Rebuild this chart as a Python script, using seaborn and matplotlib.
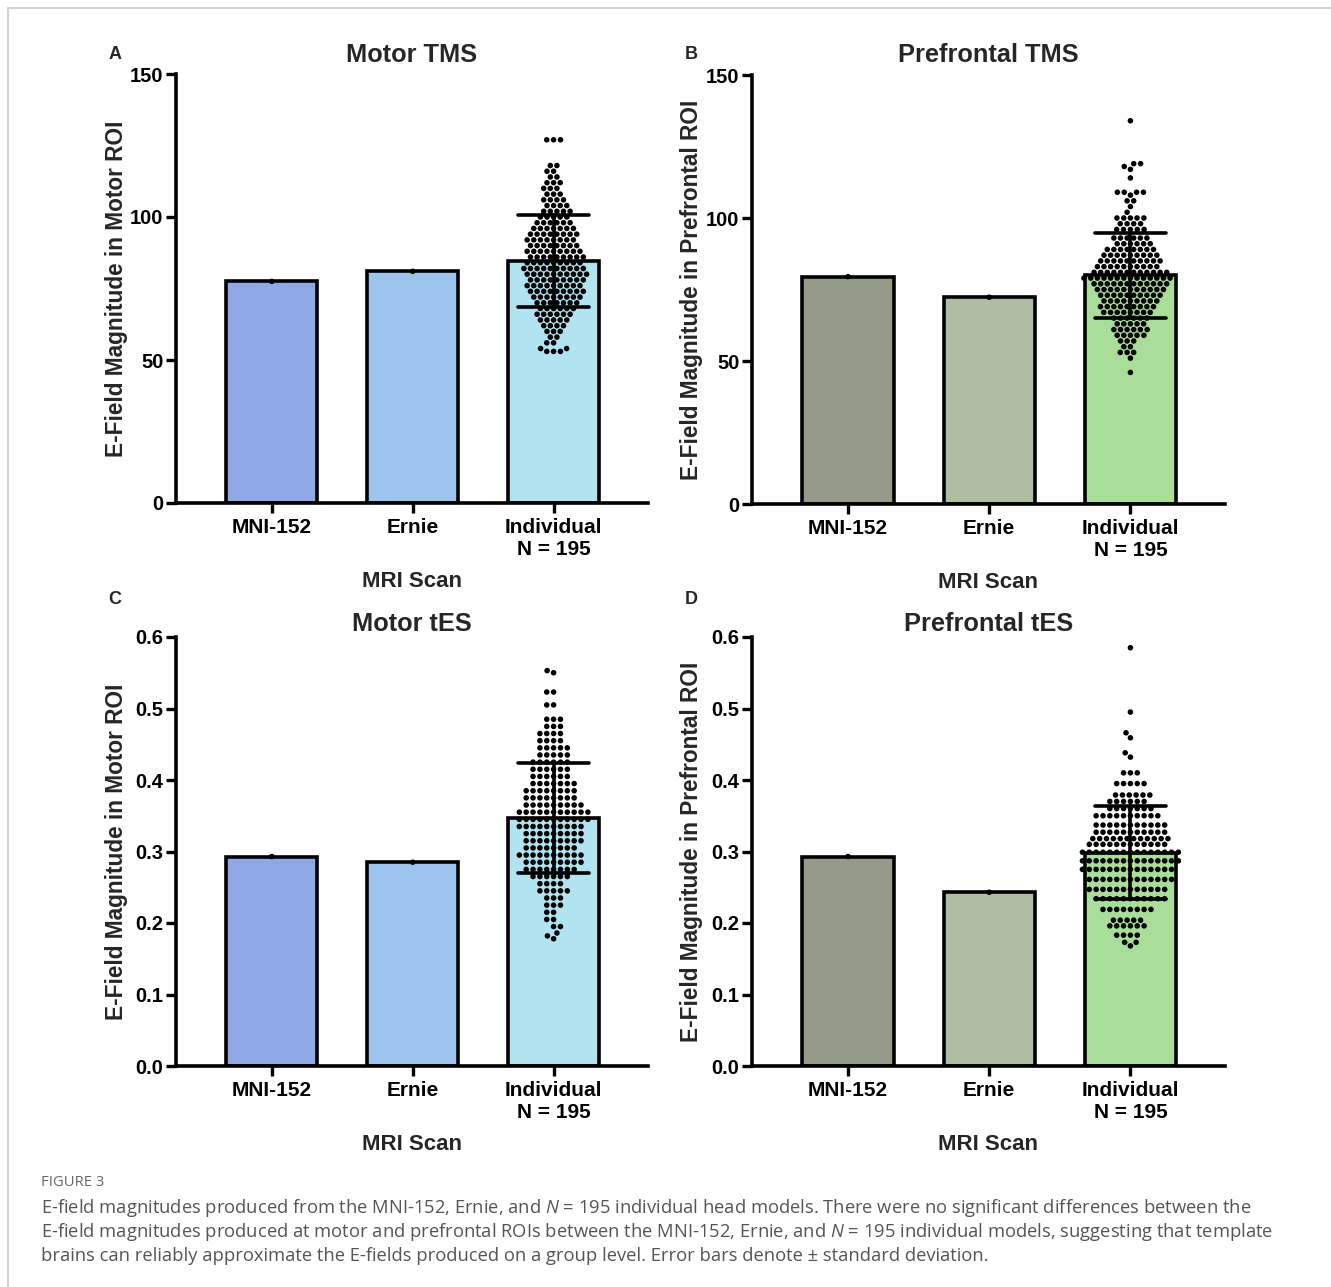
import matplotlib.pyplot as plt
import pandas as pd
import seaborn as sns
from matplotlib.lines import Line2D

# Categories
scans = ['MNI-152', 'Ernie', 'Individual\nN = 195']

# Template head model values (one value each)
motor_tms_templates = [77.5, 81.0]
prefrontal_tms_templates = [79.5, 72.3]
motor_tes_templates = [0.293, 0.285]
prefrontal_tes_templates = [0.293, 0.243]

# Individual head models (N = 195), read row by row from the swarm
motor_tms_ind = [
    127, 127, 127,
    118, 118, 116, 116, 114, 114,
    112, 112, 112, 110, 110, 110, 108, 108, 108,
    106, 106, 106, 106, 104, 104, 104, 104,
    102, 102, 102, 102, 102, 100, 100, 100, 100, 100,
    98, 98, 98, 98, 98, 98,
    96, 96, 96, 96, 96, 96, 96,
    94, 94, 94, 94, 94, 94, 94, 94,
    92, 92, 92, 92, 92, 92, 92, 92,
    90, 90, 90, 90, 90, 90, 90, 90,
    88, 88, 88, 88, 88, 88, 88, 88, 88,
    86, 86, 86, 86, 86, 86, 86, 86, 86,
    84, 84, 84, 84, 84, 84, 84, 84, 84,
    82, 82, 82, 82, 82, 82, 82, 82, 82, 82,
    80, 80, 80, 80, 80, 80, 80, 80, 80, 80,
    78, 78, 78, 78, 78, 78, 78, 78, 78,
    76, 76, 76, 76, 76, 76, 76, 76, 76,
    74, 74, 74, 74, 74, 74, 74, 74, 74,
    72, 72, 72, 72, 72, 72, 72, 72,
    70, 70, 70, 70, 70, 70, 70,
    68, 68, 68, 68, 68, 68,
    66, 66, 66, 66, 66, 66,
    64, 64, 64, 64, 64,
    62, 62, 62, 62,
    60, 60, 60,
    58, 58, 56, 56, 54, 54,
    53, 53, 53,
]

prefrontal_tms_ind = [
    134,
    119, 119, 118, 117,
    114,
    109, 109, 109, 109, 108,
    106, 106, 104, 102,
    100, 100, 100, 100, 100,
    98, 98, 98, 98,
    96, 96, 96, 96, 96,
    93, 93, 93, 93, 93, 93,
    91, 91, 91, 91, 91, 91,
    89, 89, 89, 89, 89, 89, 89, 89,
    87, 87, 87, 87, 87, 87, 87, 87, 87,
    85, 85, 85, 85, 85, 85, 85, 85, 85, 85,
    83, 83, 83, 83, 83, 83, 83, 83, 83, 83,
    81, 81, 81, 81, 81, 81, 81, 81, 81, 81, 81, 81,
    79, 79, 79, 79, 79, 79, 79, 79, 79, 79, 79, 79, 79, 79,
    77, 77, 77, 77, 77, 77, 77, 77, 77, 77, 77, 77,
    75, 75, 75, 75, 75, 75, 75, 75, 75, 75, 75,
    73, 73, 73, 73, 73, 73, 73, 73, 73, 73,
    71, 71, 71, 71, 71, 71, 71, 71, 71,
    69, 69, 69, 69, 69, 69, 69, 69, 69,
    67, 67, 67, 67, 67, 67, 67, 67,
    65, 65, 65, 65, 65, 65,
    63, 63, 63, 63, 63,
    61, 61, 61, 61, 61, 61,
    59, 59, 59, 59, 59,
    57, 57, 57, 55, 55,
    53, 53, 53, 51, 46,
]

motor_tes_ind = [
    0.553, 0.550,
    0.523, 0.523, 0.505, 0.505,
    0.485, 0.485, 0.485, 0.475, 0.475, 0.475,
    0.465, 0.465, 0.465, 0.465, 0.455, 0.455, 0.455, 0.455,
    0.445, 0.445, 0.445, 0.445, 0.445,
    0.435, 0.435, 0.435, 0.435, 0.435,
    0.425, 0.425, 0.425, 0.425, 0.425, 0.425,
    0.415, 0.415, 0.415, 0.415, 0.415, 0.415,
    0.405, 0.405, 0.405, 0.405, 0.405, 0.405,
    0.395, 0.395, 0.395, 0.395, 0.395, 0.395, 0.395,
    0.385, 0.385, 0.385, 0.385, 0.385, 0.385, 0.385, 0.385,
    0.375, 0.375, 0.375, 0.375, 0.375, 0.375, 0.375, 0.375,
    0.365, 0.365, 0.365, 0.365, 0.365, 0.365, 0.365, 0.365, 0.365,
    0.355, 0.355, 0.355, 0.355, 0.355, 0.355, 0.355, 0.355, 0.355, 0.355, 0.355,
    0.345, 0.345, 0.345, 0.345, 0.345, 0.345, 0.345, 0.345, 0.345, 0.345, 0.345,
    0.335, 0.335, 0.335, 0.335, 0.335, 0.335, 0.335, 0.335, 0.335, 0.335,
    0.325, 0.325, 0.325, 0.325, 0.325, 0.325, 0.325, 0.325, 0.325,
    0.315, 0.315, 0.315, 0.315, 0.315, 0.315, 0.315, 0.315, 0.315,
    0.305, 0.305, 0.305, 0.305, 0.305, 0.305, 0.305, 0.305,
    0.295, 0.295, 0.295, 0.295, 0.295, 0.295, 0.295, 0.295, 0.295, 0.295,
    0.285, 0.285, 0.285, 0.285, 0.285, 0.285, 0.285, 0.285, 0.285,
    0.275, 0.275, 0.275, 0.275, 0.275, 0.275, 0.275, 0.275,
    0.265, 0.265, 0.265, 0.265, 0.265, 0.265,
    0.255, 0.255, 0.255, 0.255,
    0.245, 0.245, 0.245, 0.245, 0.245,
    0.235, 0.235, 0.235, 0.225, 0.225, 0.225,
    0.215, 0.215, 0.205, 0.205, 0.195, 0.195,
    0.186, 0.182, 0.178,
]

prefrontal_tes_ind = [
    0.585, 0.495, 0.466, 0.459, 0.438, 0.432,
    0.410, 0.410, 0.410,
    0.395, 0.395, 0.395, 0.395, 0.395,
    0.379, 0.379, 0.379, 0.379, 0.379, 0.379,
    0.370, 0.370, 0.370, 0.370, 0.370, 0.370,
    0.360, 0.360, 0.360, 0.360, 0.360, 0.360, 0.360,
    0.350, 0.350, 0.350, 0.350, 0.350, 0.350, 0.350, 0.350, 0.350, 0.350,
    0.337, 0.337, 0.337, 0.337, 0.337, 0.337, 0.337, 0.337, 0.337, 0.337, 0.337,
    0.327, 0.327, 0.327, 0.327, 0.327, 0.327, 0.327, 0.327, 0.327, 0.327, 0.327,
    0.318, 0.318, 0.318, 0.318, 0.318, 0.318, 0.318, 0.318, 0.318, 0.318, 0.318, 0.318,
    0.310, 0.310, 0.310, 0.310, 0.310, 0.310, 0.310, 0.310, 0.310, 0.310, 0.310, 0.310,
    0.299, 0.299, 0.299, 0.299, 0.299, 0.299, 0.299, 0.299, 0.299, 0.299, 0.299, 0.299,
    0.299, 0.299, 0.299,
    0.287, 0.287, 0.287, 0.287, 0.287, 0.287, 0.287, 0.287, 0.287, 0.287, 0.287, 0.287,
    0.287, 0.287, 0.287,
    0.275, 0.275, 0.275, 0.275, 0.275, 0.275, 0.275, 0.275, 0.275, 0.275, 0.275, 0.275,
    0.275, 0.275,
    0.261, 0.261, 0.261, 0.261, 0.261, 0.261, 0.261, 0.261, 0.261, 0.261, 0.261, 0.261,
    0.261,
    0.247, 0.247, 0.247, 0.247, 0.247, 0.247, 0.247, 0.247, 0.247, 0.247, 0.247, 0.247,
    0.234, 0.234, 0.234, 0.234, 0.234, 0.234, 0.234, 0.234, 0.234, 0.234, 0.234,
    0.219, 0.219, 0.219, 0.219, 0.219, 0.219, 0.219, 0.219,
    0.204, 0.204, 0.204, 0.204, 0.204,
    0.196, 0.196, 0.196, 0.196, 0.196, 0.196,
    0.183, 0.183, 0.183, 0.183,
    0.173, 0.173, 0.168,
]

motor_colors = ['#8fa8e6', '#9ec4ee', '#b2e3f0']
prefrontal_colors = ['#959a89', '#afbea3', '#a9dd9a']

caption_lines = [
    'E-field magnitudes produced from the MNI-152, Ernie, and $N$ = 195 individual head models. '
    'There were no significant differences between the',
    'E-field magnitudes produced at motor and prefrontal ROIs between the MNI-152, Ernie, and '
    '$N$ = 195 individual models, suggesting that template',
    'brains can reliably approximate the E-fields produced on a group level. '
    'Error bars denote \u00b1 standard deviation.',
]

sns.set_theme(style='ticks')
plt.rcParams['font.family'] = ['Liberation Sans', 'DejaVu Sans']
plt.rcParams['font.weight'] = 'bold'
plt.rcParams['mathtext.fontset'] = 'custom'
plt.rcParams['mathtext.rm'] = 'Open Sans:normal'
plt.rcParams['mathtext.it'] = 'Open Sans:italic:normal'


def draw_panel(ax, templates, ind, colors, title, ylabel, letter, yticks, fmt, title_y, letter_y):
    df = pd.DataFrame({
        'scan': scans[:2] + [scans[2]] * len(ind),
        'value': templates + ind,
    })
    sns.barplot(data=df, x='scan', y='value', hue='scan', order=scans, hue_order=scans,
                palette=colors, saturation=1, legend=False, errorbar='sd', capsize=0.5,
                width=0.645, edgecolor='black', linewidth=2.6,
                err_kws={'color': 'black', 'linewidth': 2.6}, ax=ax)
    for line in ax.lines:
        line.set_zorder(5)
    sns.swarmplot(data=df, x='scan', y='value', order=scans, color='black', size=4.0,
                  linewidth=0.7, edgecolor='none', zorder=4, ax=ax)

    ax.set_xlim(-0.68, 2.67)
    ax.set_ylim(yticks[0], yticks[-1])
    ax.set_yticks(yticks)
    ax.set_yticklabels([fmt.format(t) for t in yticks])
    sns.despine(ax=ax)
    for side in ['left', 'bottom']:
        ax.spines[side].set_linewidth(2.6)
        ax.spines[side].set_color('black')
    ax.tick_params(axis='both', width=2.4, length=7, color='black', labelcolor='black')
    ax.tick_params(axis='y', labelsize=14.5, pad=2)
    ax.tick_params(axis='x', labelsize=15, pad=4)

    ax.set_xlabel('MRI Scan', fontsize=16, fontweight='bold', va='center')
    ax.xaxis.set_label_coords(0.5, -0.184)
    ax.set_ylabel(ylabel, fontsize=16.3, fontweight='bold', va='center')
    ax.yaxis.set_label_coords(-0.127, 0.5)

    ax.text(0.5, title_y, title, transform=ax.transAxes, ha='center', va='center',
            fontsize=18.3, fontweight='bold')
    ax.text(-0.129, letter_y, letter, transform=ax.transAxes, ha='center', va='center',
            fontsize=13, fontweight='bold')


fig = plt.figure(figsize=(13.31, 12.87), dpi=100)
W, H = 1331, 1287
ax_a = fig.add_axes([176 / W, 1 - 503 / H, 472 / W, 429 / H])
ax_b = fig.add_axes([752 / W, 1 - 504 / H, 473 / W, 429 / H])
ax_c = fig.add_axes([176 / W, 1 - 1066 / H, 472 / W, 429 / H])
ax_d = fig.add_axes([752 / W, 1 - 1066 / H, 473 / W, 429 / H])

tms_ticks = [0, 50, 100, 150]
tes_ticks = [0.0, 0.1, 0.2, 0.3, 0.4, 0.5, 0.6]

draw_panel(ax_a, motor_tms_templates, motor_tms_ind, motor_colors, 'Motor TMS',
           'E-Field Magnitude in Motor ROI', 'A', tms_ticks, '{:.0f}', 1.045, 1.045)
draw_panel(ax_b, prefrontal_tms_templates, prefrontal_tms_ind, prefrontal_colors, 'Prefrontal TMS',
           'E-Field Magnitude in Prefrontal ROI', 'B', tms_ticks, '{:.0f}', 1.047, 1.047)
draw_panel(ax_c, motor_tes_templates, motor_tes_ind, motor_colors, 'Motor tES',
           'E-Field Magnitude in Motor ROI', 'C', tes_ticks, '{:.1f}', 1.031, 1.087)
draw_panel(ax_d, prefrontal_tes_templates, prefrontal_tes_ind, prefrontal_colors, 'Prefrontal tES',
           'E-Field Magnitude in Prefrontal ROI', 'D', tes_ticks, '{:.1f}', 1.031, 1.087)

# Caption
fig.text(41 / W, 1 - 1183 / H, 'FIGURE 3', ha='left', va='center', fontsize=10.6,
         color='#666666', fontweight='normal', family=['Open Sans', 'DejaVu Sans'])
for i, line in enumerate(caption_lines):
    fig.text(41 / W, 1 - (1208 + 24 * i) / H, line, ha='left', va='center', fontsize=13.2,
             color='#555555', fontweight='normal', family=['Open Sans', 'DejaVu Sans'])

# Light page frame
fig.add_artist(Line2D([8 / W, 1], [1 - 8 / H, 1 - 8 / H], transform=fig.transFigure,
                      color='#d2d2d2', linewidth=1.5))
fig.add_artist(Line2D([8 / W, 8 / W], [0, 1 - 8 / H], transform=fig.transFigure,
                      color='#d2d2d2', linewidth=1.5))

fig.savefig('out.png', dpi=100)
